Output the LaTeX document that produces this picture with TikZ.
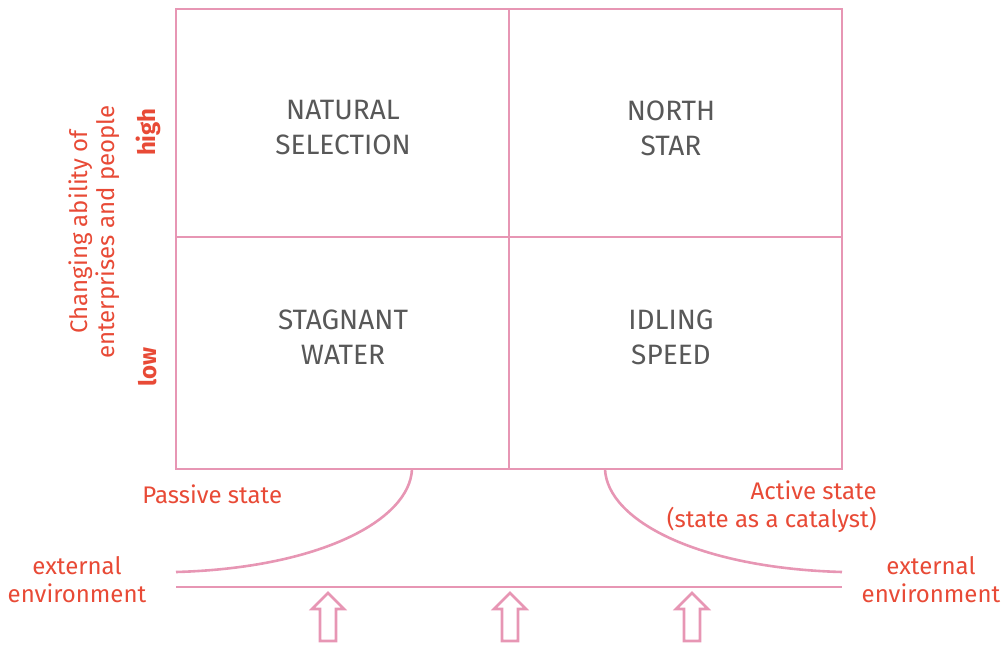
\documentclass[tikz,border=0pt]{standalone}
\usepackage{fontspec}
\setmainfont{Fira Sans}
\definecolor{gridpink}{RGB}{231,150,180}
\definecolor{labelred}{RGB}{232,74,54}
\definecolor{cellgray}{RGB}{88,88,88}
\usetikzlibrary{positioning}

\begin{document}
\begin{tikzpicture}[x=0.5pt, y=-0.5pt,
    line/.style={draw=gridpink, line width=1.3pt},
    cell/.style={align=center, text=cellgray, font=\fontsize{14}{17.5}\selectfont},
    lbl/.style={text=labelred, font=\fontsize{12}{14}\selectfont, inner sep=0pt},
    axis/.style={lbl, rotate=90, align=center, font=\fontsize{12}{13.5}\selectfont}
  ]
  \useasboundingbox (0,0) rectangle (1003,644);

  % matrix
  \draw[line] (176,9) rectangle (842,469);
  \draw[line] (509,9) -- (509,469);
  \draw[line] (176,237) -- (842,237);

  \node[cell] (natsel) at (343,128) {NATURAL\\SELECTION};
  \node[cell] (north) at (671,128) {NORTH\\STAR};
  \node[cell] (stag) at (343,337) {STAGNANT\\WATER};
  \node[cell] (idle) at (671,337) {IDLING\\SPEED};

  % vertical axis
  \node[axis] (ability) at (94,232) {Changing ability of\\enterprises and people};
  \node[axis, font=\fontsize{12}{13.5}\selectfont\bfseries] (high) at (148,132) {high};
  \node[axis, font=\fontsize{12}{13.5}\selectfont\bfseries] (low) at (148,367) {low};

  % states
  \coordinate (lefttop) at (412,469);
  \coordinate (leftend) at (176,572);
  \coordinate (righttop) at (605,469);
  \coordinate (rightend) at (842,572);
  \draw[line] (lefttop) .. controls (410,520) and (320,568) .. (leftend);
  \draw[line] (righttop) .. controls (607,520) and (697,568) .. (rightend);

  \node[lbl, anchor=west] (passive) at (142,494) {Passive state};
  \node[lbl, anchor=east, align=right] (active) at (877,507) {Active state\\(state as a catalyst)};

  % external environment
  \coordinate (groundl) at (176,587);
  \coordinate (groundr) at (842,587);
  \draw[line] (groundl) -- (groundr);
  \node[lbl, align=center] (envl) at (77,580) {external\\environment};
  \node[lbl, align=center] (envr) at (931,580) {external\\environment};

  \foreach \ax in {328,510,692}
    \draw[line, line join=miter] (\ax,593) -- (\ax+16,609) -- (\ax+8,609) -- (\ax+8,641)
      -- (\ax-8,641) -- (\ax-8,609) -- (\ax-16,609) -- cycle;
\end{tikzpicture}
\end{document}
